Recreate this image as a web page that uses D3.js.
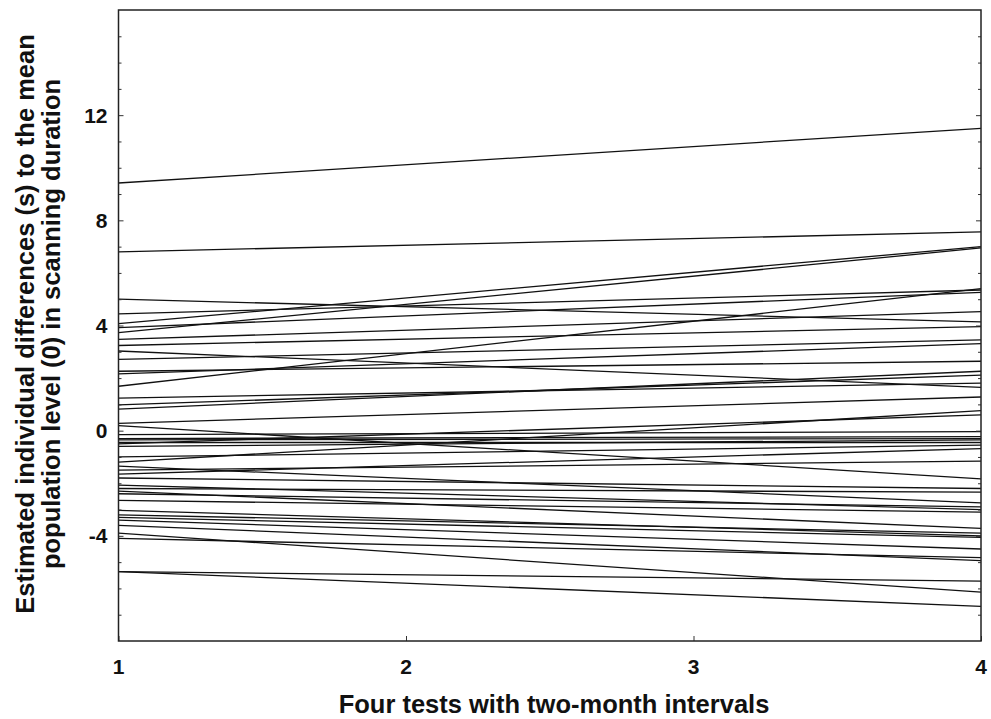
<!DOCTYPE html>
<html>
<head>
<meta charset="utf-8">
<script src="https://cdn.jsdelivr.net/npm/d3@7"></script>
<style>
  body { margin: 0; background: #fff; }
  text { font-family: "Liberation Sans", Arial, sans-serif; font-weight: bold; fill: #111; }
</style>
</head>
<body>
<script>
// Tests on the x axis
const tests = [1, 2, 3, 4];
const yTicks = [-4, 0, 4, 8, 12];

// Estimated individual differences at test 1 and at test 4 (one entry per subject)
const startValues = [9.42, 6.8, 4.07, 3.73, 1.69, 4.44, 3.92, 5.0, 3.47, 3.24,
  2.71, 2.16, 3.03, 2.26, 0.82, 0.98, 1.24, 0.28, 0.19, -0.5,
  -0.15, -0.3, -0.35, -0.45, -0.6, -1.0, -1.2, -1.35, -1.5, -1.65,
  -1.8, -2.07, -2.2, -2.3, -2.4, -2.65, -3.03, -3.2, -3.3, -3.4,
  -3.6, -4.1, -3.9, -5.36, -5.36];
const endValues = [11.5, 7.56, 7.0, 6.95, 5.4, 5.35, 5.26, 4.14, 4.53, 3.96,
  3.45, 3.31, 1.65, 2.64, 2.26, 2.11, 1.81, 1.28, -1.83, 0.6,
  -0.04, -0.23, -0.3, -0.45, -0.35, -0.55, 0.76, -2.75, -1.16, -0.68,
  -2.2, -3.0, -2.34, -3.72, -2.9, -3.1, -4.0, -3.9, -4.06, -4.5,
  -4.94, -4.83, -6.14, -5.72, -6.68];

const width = 991;
const height = 719;
const margin = {top: 10, right: 10, bottom: 78, left: 118.5};

const x = d3.scaleLinear()
  .domain([1, 4])
  .range([margin.left, width - margin.right]);

const y = d3.scaleLinear()
  .domain([-8, 16])
  .range([height - margin.bottom, margin.top]);

const svg = d3.select('body')
  .append('svg')
  .attr('width', width)
  .attr('height', height);

// the subject lines
const lines = startValues.map((s, i) => [[tests[0], s], [tests[3], endValues[i]]]);
const line = d3.line().x(d => x(d[0])).y(d => y(d[1]));

svg.append('g')
  .selectAll('path')
  .data(lines)
  .enter()
  .append('path')
  .attr('d', line)
  .attr('fill', 'none')
  .attr('stroke', '#111')
  .attr('stroke-width', 1.3);

// minor ticks every unit, major every 4, drawn inward on left and right
const minor = d3.range(-7, 16).filter(v => v % 4 !== 0);

svg.append('g')
  .attr('transform', `translate(${margin.left},0)`)
  .call(d3.axisRight(y).tickValues(yTicks).tickSize(5).tickFormat(''));
svg.append('g')
  .attr('transform', `translate(${margin.left},0)`)
  .call(d3.axisRight(y).tickValues(minor).tickSize(3).tickFormat(''));

svg.append('g')
  .attr('transform', `translate(${width - margin.right},0)`)
  .call(d3.axisLeft(y).tickValues(yTicks).tickSize(5).tickFormat(''));
svg.append('g')
  .attr('transform', `translate(${width - margin.right},0)`)
  .call(d3.axisLeft(y).tickValues(minor).tickSize(3).tickFormat(''));

svg.append('g')
  .attr('transform', `translate(0,${height - margin.bottom})`)
  .call(d3.axisTop(x).tickValues(tests).tickSize(5).tickFormat(''));

svg.selectAll('.domain').remove();
svg.selectAll('.tick line').attr('stroke', '#333');

// tick labels
svg.append('g')
  .selectAll('text')
  .data(yTicks)
  .enter()
  .append('text')
  .attr('x', margin.left - 11)
  .attr('y', d => y(d))
  .attr('dy', '0.36em')
  .attr('text-anchor', 'end')
  .style('font-size', '21px')
  .text(d => d);

svg.append('g')
  .selectAll('text')
  .data(tests)
  .enter()
  .append('text')
  .attr('x', d => x(d))
  .attr('y', height - margin.bottom + 33)
  .attr('text-anchor', 'middle')
  .style('font-size', '21px')
  .text(d => d);

// frame
svg.append('rect')
  .attr('x', margin.left)
  .attr('y', margin.top)
  .attr('width', width - margin.right - margin.left)
  .attr('height', height - margin.bottom - margin.top)
  .attr('fill', 'none')
  .attr('stroke', '#222')
  .attr('stroke-width', 1.5);

// axis titles
svg.append('text')
  .attr('x', 554)
  .attr('y', 713)
  .attr('text-anchor', 'middle')
  .style('font-size', '25.5px')
  .text('Four tests with two-month intervals');

const yTitle = svg.append('text')
  .attr('transform', 'translate(0,324) rotate(-90)')
  .attr('text-anchor', 'middle')
  .style('font-size', '25.5px');
yTitle.append('tspan').attr('x', 0).attr('y', 34)
  .text('Estimated individual differences (s) to the mean');
yTitle.append('tspan').attr('x', 0).attr('y', 60)
  .text('population level (0) in scanning duration');
</script>
</body>
</html>
